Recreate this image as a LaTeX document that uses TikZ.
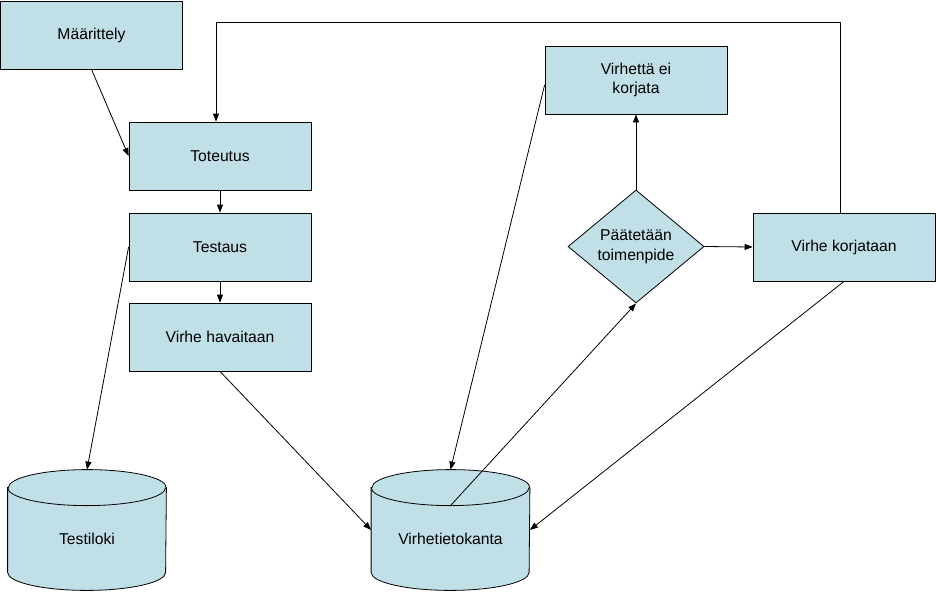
\documentclass[tikz,border=0pt]{standalone}
\usepackage{fontspec}
\setmainfont{Liberation Sans}
\usetikzlibrary{shapes.geometric,arrows.meta,calc}
\definecolor{boxfill}{RGB}{192,223,230}
\newcommand\dbshape[1]{%
  \path[draw=black, fill=boxfill] ($(#1.north west)+(0,18)$) -- ($(#1.south west)+(0,-18)$)
    arc[start angle=180,end angle=360,x radius=79pt,y radius=18pt]
    -- ($(#1.north east)+(0,18)$)
    arc[start angle=0,end angle=180,x radius=79pt,y radius=18pt] -- cycle;
  \draw ($(#1.north west)+(0,18)$) arc[start angle=180,end angle=360,x radius=79pt,y radius=18pt];}
\begin{document}
\begin{tikzpicture}[x=1pt,y=-1pt,line width=0.8pt,
  txt/.style={font=\fontsize{15.7}{19.5}\selectfont, align=center},
  box/.style={txt, draw=black, fill=boxfill, minimum width=182pt, minimum height=68pt, inner sep=0pt},
  dia/.style={txt, diamond, draw=black, fill=boxfill, minimum width=136pt, minimum height=113pt, inner sep=0pt, aspect=1.2},
  dbarea/.style={minimum width=158pt, minimum height=120pt, inner sep=0pt},
  arr/.style={-{Triangle[length=8pt,width=6pt]}}]
\useasboundingbox (0,0) rectangle (936,592);
\node[box] (m) at (91.5,35) {Määrittely};
\node[box] (t) at (220,156) {Toteutus};
\node[box] (te) at (220,247) {Testaus};
\node[box] (vh) at (220,337) {Virhe havaitaan};
\node[box] (ve) at (636,80) {Virhettä ei\\korjata};
\node[dia] (d) at (636,246.5) {Päätetään\\toimenpide};
\node[box] (vk) at (844,247) {Virhe korjataan};
\node[dbarea] (tl) at (87,530) {};
\node[dbarea] (db) at (450.5,530) {};
\dbshape{tl}
\dbshape{db}
\node[txt] (tlt) at ($(tl.center)+(0,9)$) {Testiloki};
\node[txt] (dbt) at ($(db.center)+(0,9)$) {Virhetietokanta};
\coordinate (top) at (0,22);
\coordinate (a1) at ([xshift=-4pt]vk.north);
\coordinate (a2) at ([xshift=-4pt]t.north);
\coordinate (dbin) at ($(db.north)+(0,36)$);
\coordinate (vew) at ([yshift=-5pt]ve.west);
\draw[arr] (m.south) -- (t.west);
\draw[arr] (a1) -- (a1 |- top) -- (a2 |- top) -- (a2);
\draw[arr] (t.south) -- (te.north);
\draw[arr] (te.south) -- (vh.north);
\draw[arr] (te.west) -- (tl.north);
\draw[arr] (vh.south) -- (db.west);
\draw[arr] (vew) -- (db.north);
\draw[arr] (dbin) -- (d.south);
\draw[arr] (d.north) -- (ve.south);
\draw[arr] (d.east) -- (vk.west);
\draw[arr] (vk.south) -- (db.east);
\end{tikzpicture}
\end{document}
